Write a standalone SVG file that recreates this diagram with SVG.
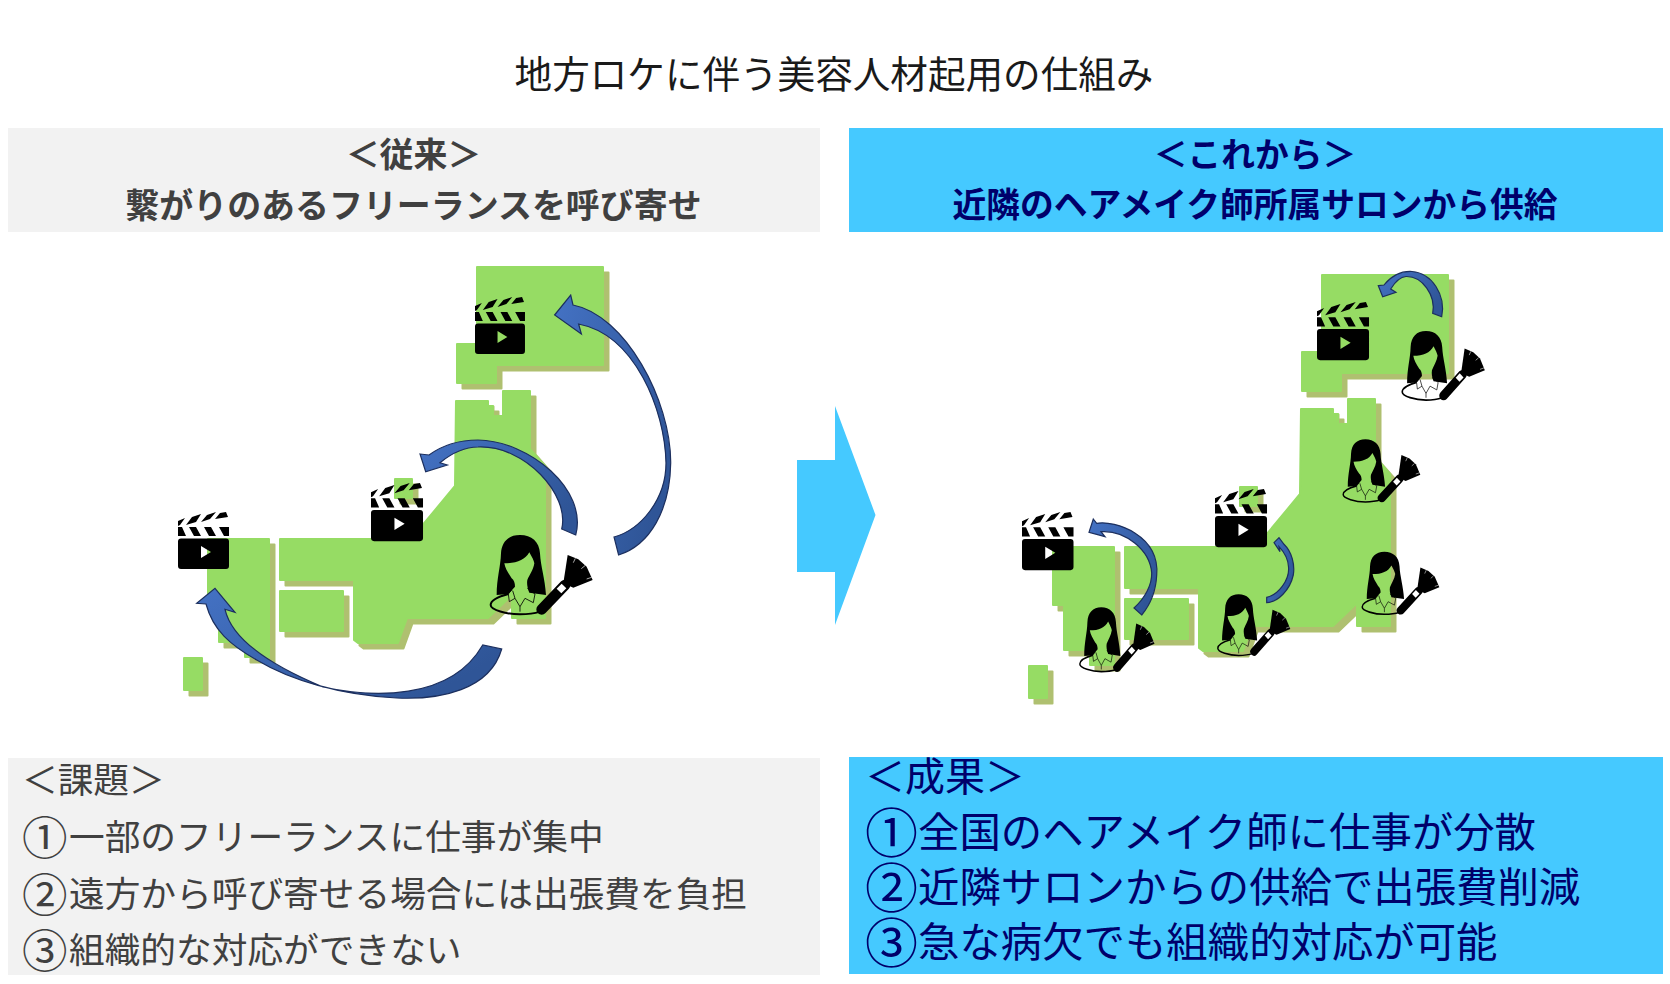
<svg xmlns="http://www.w3.org/2000/svg" xmlns:xlink="http://www.w3.org/1999/xlink" width="1670" height="984" viewBox="0 0 1670 984">
<style>
text{font-family:"Noto Sans CJK JP","Noto Sans",sans-serif}
.title{font-size:37.6px;fill:#1a1a1a;text-anchor:middle}
.hg{font-size:33.95px;font-weight:700;fill:#404040;text-anchor:middle}
.hb{font-size:33.75px;font-weight:700;fill:#00006b;text-anchor:middle}
.bg{font-size:35.7px;fill:#404040}
.cg{font-size:45.5px}
.bb{font-size:41.4px;fill:#00006b}
.cb{font-size:53px}
.arrow{fill:url(#ag);stroke:#1c2f5e;stroke-width:1.2}
.land{fill:#96dc64;stroke:#96dc64;stroke-width:2;stroke-linejoin:round}
.shade{fill:#afc070;stroke:#afc070;stroke-width:2;stroke-linejoin:round}
</style>
<defs>
<linearGradient id="ag" x1="0" y1="0" x2="1" y2="0.6"><stop offset="0" stop-color="#4472c4"/><stop offset="1" stop-color="#2f5597"/></linearGradient>
<path id="landshape" d="M477,267H603V365H496V383H457V344H477Z M456,401H488V406H493V416H503V391H530V449L545,466V618H512V595L488,618H407L398,643H358L354,640V580H280V539H411L455,486Z M208,539H269V657H245V642H219V597H208Z M280,591H343V631H280Z M184,658H202V690H184Z M395,479H412V498H395Z"/>
<g id="japan"><use xlink:href="#landshape" class="shade" transform="translate(5.5,5.5)"/><use xlink:href="#landshape" class="land"/></g>
<g id="clapper">
<path fill-rule="evenodd" d="M3,26.5H48Q51,26.5 51,29.5V54Q51,57 48,57H3Q0,57 0,54V29.5Q0,26.5 3,26.5Z M23,34V46L33,40Z"/>
<path d="M0,15H4L8,24H0Z M11,15H18L23,24H16Z M26,15H33L38,24H31Z M41,15H51V24H46Z M0,14V9L7,6L2,13Z M8,13L14,5L23,2L18,10Z M23,10L29,3L38,0L32,7Z M37,7L42,1L48,0L50,5Z"/>
</g>
<g id="stylist">
<path d="M150,45C115,45 95,65 93,100C92,140 80,175 80,225L115,222L135,200C135,190 132,180 125,175C115,160 105,145 103,130C140,130 165,120 178,97C185,110 192,122 193,130C190,150 178,165 172,180C170,190 172,205 178,218L228,225C225,175 212,140 210,100C208,65 185,45 150,45Z"/>
<path d="M115,222C85,230 62,240 62,255C62,270 110,283 150,283C170,283 195,280 210,275" fill="none" stroke="#000" stroke-width="6"/>
<path d="M125,210L115,222L118,245L135,235L150,260L165,235L190,248L195,222L172,205M135,235L128,212M150,260V275" fill="none" stroke="#000" stroke-width="2.5"/>
<path d="M215,268L285,195" fill="none" stroke="#000" stroke-width="32" stroke-linecap="round"/>
<path d="M267,213L282,198" fill="none" stroke="#fff" stroke-width="20"/>
<path d="M280,190L293,105L325,118L350,140L368,180L310,203Z"/>
<path d="M316,115L310,128M345,137L334,146M365,172L350,177" stroke="#fff" stroke-width="2"/>
</g>
</defs>
<rect width="1670" height="984" fill="#fff"/>
<g id="title"><text class="title" x="834" y="88">地方ロケに伴う美容人材起用の仕組み</text></g>
<g id="header-left"><rect x="8" y="128" width="812" height="104" fill="#f2f2f2"/><text class="hg" x="413.5" y="167">＜従来＞</text><text class="hg" x="413.5" y="218">繋がりのあるフリーランスを呼び寄せ</text></g>
<g id="header-right"><rect x="849" y="128" width="814" height="104" fill="#45c9ff"/><text class="hb" x="1255" y="166.5">＜これから＞</text><text class="hb" x="1255" y="217">近隣のヘアメイク師所属サロンから供給</text></g>
<g id="map-left"><use xlink:href="#japan"/></g>
<g id="map-right"><use xlink:href="#japan" transform="translate(845,8)"/></g>
<g id="clappers">
<use xlink:href="#clapper" id="clapper-l1" transform="translate(475,297) scale(.98,1)"/>
<use xlink:href="#clapper" id="clapper-l2" transform="translate(371,483) scale(1.02,1.02)"/>
<use xlink:href="#clapper" id="clapper-l3" transform="translate(178,512)"/>
<use xlink:href="#clapper" id="clapper-r1" transform="translate(1317,302) scale(1.02,1.02)"/>
<use xlink:href="#clapper" id="clapper-r2" transform="translate(1215,489) scale(1.02,1.02)"/>
<use xlink:href="#clapper" id="clapper-r3" transform="translate(1022,512) scale(1.01,1.02)"/>
</g>
<g id="stylists">
<use xlink:href="#stylist" id="stylist-l" transform="translate(470,520) scale(.3333)"/>
<use xlink:href="#stylist" id="stylist-r1" transform="translate(1385.5,318) scale(.27,.29)"/>
<use xlink:href="#stylist" id="stylist-r2" transform="translate(1327.6,427.5) scale(.252,.263)"/>
<use xlink:href="#stylist" id="stylist-r3" transform="translate(1346.6,539.9) scale(.252,.263)"/>
<use xlink:href="#stylist" id="stylist-r4" transform="translate(1203.1,582.7) scale(.237,.257)"/>
<use xlink:href="#stylist" id="stylist-r5" transform="translate(1064.7,595.2) scale(.244,.27)"/>
</g>
<g id="connectors">
<path class="arrow" d="M554.6,315L570.7,295L573,305C625,315 671,400 670.7,463C670,510 650,545 618.6,555L614,537C640,530 666,500 666,463C665,410 635,335 578.6,324L581.4,334Z"/>
<path class="arrow" d="M420,454L429,455C444,444 462,440 478,440C530,441 588,490 575.7,535L561.7,529C570,495 525,445 478,447C465,447 452,453 440,462.7L447.3,465L425.7,471.7Z"/>
<path class="arrow" d="M215,588.3L235,612.3L225,609.3C232,640 270,665 323,687C370,697 450,702 482.7,645L501.7,649C490,690 440,700 396.7,698C340,695 290,680 256.7,660C230,645 213,630 206,604L196.7,603.3Z"/>
<path class="arrow" d="M1378.3,285.7L1384,285C1392,275 1402,271 1412,271.5C1432,273 1446,295 1441.7,316.7L1432.7,313.3C1436,295 1422,276 1406,276.5C1400,277 1395,282 1390.7,289L1396,292.3L1382.7,296.7Z"/>
<path class="arrow" d="M1274,542.7L1279,537.7L1284,544.3C1292,552 1295,565 1293.3,575C1290,590 1278,602 1266.7,602.7L1266.7,597.3C1278,595 1290,580 1288.5,566.7C1288,558 1284,552 1279,546.7L1280,551.7Z"/>
<path class="arrow" d="M1093.3,519L1096.7,523.3C1115,520 1160,535 1156.7,575C1156,590 1150,605 1141.7,615L1134,608C1145,598 1152,585 1151.7,573C1150,550 1125,530 1101,531.7L1105,536.7L1089,532.3Z"/>
<path id="big-arrow" fill="#45c9ff" d="M797,460H835V406L875.5,515L835,625V572H797Z"/>
</g>
<g id="issues"><rect x="8" y="758" width="812" height="217" fill="#f2f2f2"/>
<text class="bg"><tspan x="22" y="793">＜課題＞</tspan><tspan class="cg" x="22" y="855">①</tspan><tspan x="69" y="850">一部のフリーランスに仕事が集中</tspan><tspan class="cg" x="22" y="912">②</tspan><tspan x="69" y="907">遠方から呼び寄せる場合には出張費を負担</tspan><tspan class="cg" x="22" y="968">③</tspan><tspan x="69" y="963">組織的な対応ができない</tspan></text></g>
<g id="results"><rect x="849" y="757" width="814" height="217" fill="#45c9ff"/>
<text class="bb"><tspan x="865" y="791" style="font-size:40px">＜成果＞</tspan><tspan class="cb" x="865" y="853">①</tspan><tspan x="918" y="847">全国のヘアメイク師に仕事が分散</tspan><tspan class="cb" x="865" y="908">②</tspan><tspan x="918" y="902">近隣サロンからの供給で出張費削減</tspan><tspan class="cb" x="865" y="963">③</tspan><tspan x="918" y="957">急な病欠でも組織的対応が可能</tspan></text></g>
</svg>
